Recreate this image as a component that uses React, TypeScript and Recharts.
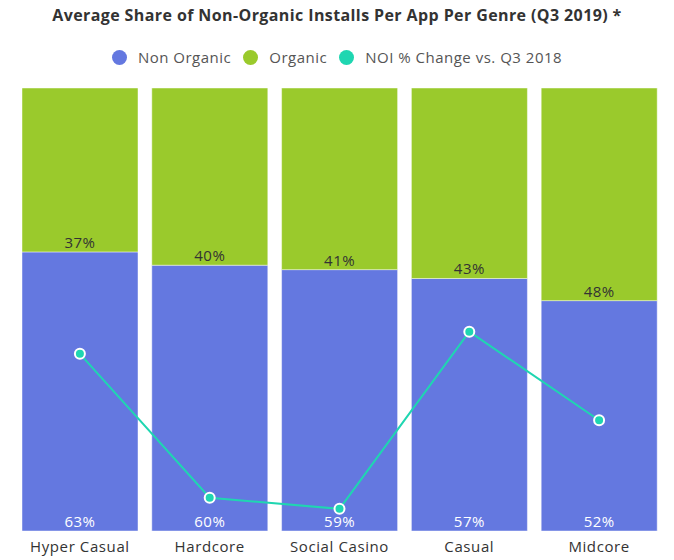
import { ComposedChart, Bar, Line, XAxis, YAxis, LabelList } from "recharts";

const genres = ["Hyper Casual", "Hardcore", "Social Casino", "Casual", "Midcore"];
const nonOrganic = [63, 60, 59, 57, 52];
const organic = [37, 40, 41, 43, 48];
// NOI % change vs Q3 2018 (hidden axis 0..100)
const noiChange = [40, 7.5, 5, 45, 25];

const BLUE = "#6478e0";
const GREEN = "#9aca2c";
const TEAL = "#1fd6b1";
const FONT = "'Open Sans', sans-serif";

const data = genres.map((g, i) => ({
  genre: g,
  nonOrganic: nonOrganic[i],
  organic: organic[i],
  noi: noiChange[i],
}));

const legendItems = [
  { label: "Non Organic", color: BLUE },
  { label: "Organic", color: GREEN },
  { label: "NOI % Change vs. Q3 2018", color: TEAL },
];

function pct(v: any) {
  return `${v}%`;
}

export default function App() {
  return (
    <div style={{ position: "absolute", left: 0, top: 0, width: 674, height: 560, background: "#fff", fontFamily: FONT }}>
      <div
        style={{
          position: "absolute",
          top: 4,
          left: 0,
          width: 674,
          textAlign: "center",
          fontSize: 16,
          letterSpacing: 0.4,
          fontWeight: 700,
          color: "#333",
        }}
      >
        Average Share of Non-Organic Installs Per App Per Genre (Q3 2019) *
      </div>
      <div
        style={{
          position: "absolute",
          top: 47,
          left: 0,
          width: 674,
          display: "flex",
          justifyContent: "center",
          alignItems: "center",
          fontSize: 15,
          letterSpacing: 0.5,
          color: "#555",
        }}
      >
        {legendItems.map((it) => (
          <div key={it.label} style={{ display: "flex", alignItems: "center", margin: "0 6px" }}>
            <span
              style={{
                display: "inline-block",
                width: 15,
                height: 15,
                borderRadius: 8,
                background: it.color,
                marginRight: 11,
              }}
            />
            <span>{it.label}</span>
          </div>
        ))}
      </div>
      <ComposedChart
        width={674}
        height={560}
        data={data}
        margin={{ top: 88, right: 10, bottom: 0, left: 15 }}
        barCategoryGap={7}
      >
        <XAxis
          dataKey="genre"
          axisLine={false}
          tickLine={false}
          height={29}
          tickMargin={4}
          tick={{ fontSize: 15, fill: "#333", fontFamily: FONT, letterSpacing: 0.6 }}
          interval={0}
        />
        <YAxis yAxisId="pct" hide domain={[0, 100]} />
        <YAxis yAxisId="noi" hide domain={[0, 100]} />
        <Bar
          yAxisId="pct"
          dataKey="nonOrganic"
          name="Non Organic"
          stackId="a"
          fill={BLUE}
          stroke="rgba(255,255,255,0.45)"
          strokeWidth={1}
          isAnimationActive={false}
        >
          <LabelList
            dataKey="nonOrganic"
            position="insideBottom"
            offset={4}
            formatter={pct}
            style={{ fill: "#fff", fontSize: 15, fontFamily: FONT, letterSpacing: 0.5 }}
          />
        </Bar>
        <Bar
          yAxisId="pct"
          dataKey="organic"
          name="Organic"
          stackId="a"
          fill={GREEN}
          stroke="rgba(255,255,255,0.45)"
          strokeWidth={1}
          isAnimationActive={false}
        >
          <LabelList
            dataKey="organic"
            position="insideBottom"
            offset={4}
            formatter={pct}
            style={{ fill: "#333", fontSize: 15, fontFamily: FONT, letterSpacing: 0.5 }}
          />
        </Bar>
        <Line
          yAxisId="noi"
          dataKey="noi"
          name="NOI % Change vs. Q3 2018"
          stroke={TEAL}
          strokeWidth={2}
          dot={{ r: 5, fill: TEAL, stroke: "#fff", strokeWidth: 2 }}
          activeDot={false}
          isAnimationActive={false}
        />
      </ComposedChart>
    </div>
  );
}
